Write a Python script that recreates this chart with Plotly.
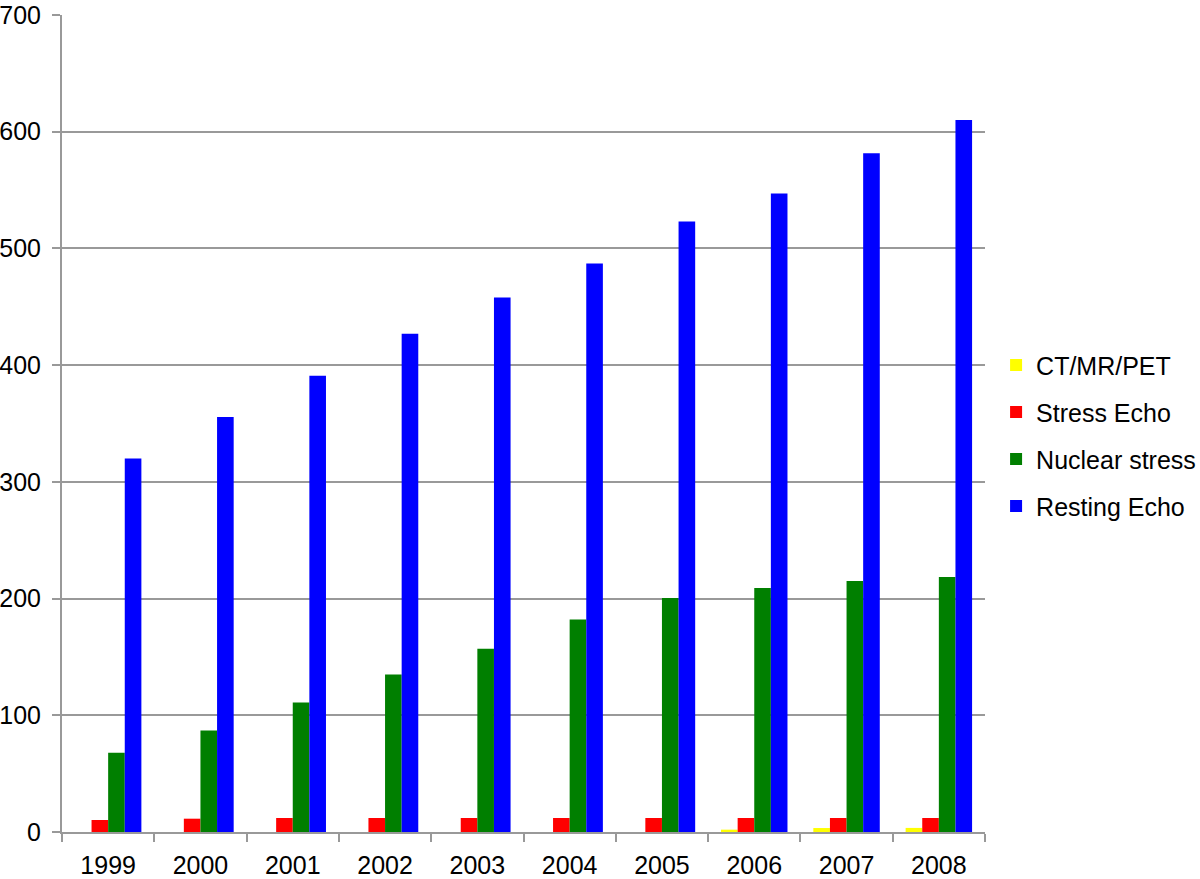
import plotly.graph_objects as go

years = ["1999", "2000", "2001", "2002", "2003", "2004", "2005", "2006", "2007", "2008"]
ct_mr_pet = [0, 0, 0, 0, 0, 0, 0, 2, 3.4, 3.5]
stress_echo = [10.3, 11.4, 12, 12, 12, 12, 12, 12, 12, 12]
nuclear_stress = [68, 87, 111, 135, 157, 182, 200.5, 209, 215, 218.5]
resting_echo = [320, 355.5, 391, 427, 458, 487, 523, 547, 581.5, 610]

series = [
    ("CT/MR/PET", ct_mr_pet, "#FFFF00"),
    ("Stress Echo", stress_echo, "#FF0000"),
    ("Nuclear stress", nuclear_stress, "#007F00"),
    ("Resting Echo", resting_echo, "#0000FF"),
]

fig = go.Figure()
for i, (name, vals, col) in enumerate(series):
    fig.add_trace(go.Bar(x=years, y=vals, name=name, marker=dict(color=col, line=dict(width=0)),
                         legendgroup=f"g{i}"))

font = "Liberation Sans, Arial, Helvetica, sans-serif"
fig.update_layout(
    width=1200, height=879,
    margin=dict(l=62, r=215, t=15, b=47, autoexpand=False),
    paper_bgcolor="white", plot_bgcolor="white",
    barmode="group", bargap=0.28, bargroupgap=0,
    font=dict(family=font, size=25, color="black"),
    showlegend=True,
    legend=dict(x=1.012, y=0.485, xanchor="left", yanchor="middle",
                traceorder="grouped", tracegroupgap=11.5,
                font=dict(size=25, color="black"), bgcolor="rgba(0,0,0,0)"),
    xaxis=dict(showline=True, linecolor="#999999", linewidth=2, automargin=False,
               ticks="outside", tickson="boundaries", ticklen=8, tickcolor="#999999", tickwidth=2,
               ticklabelstandoff=10,
               showgrid=False, tickfont=dict(size=25, family=font, color="black")),
    yaxis=dict(range=[0, 700], dtick=100, showline=True, linecolor="#999999", linewidth=2,
               automargin=False,
               showgrid=True, gridcolor="#999999", gridwidth=1.5,
               ticks="outside", ticklen=8, tickcolor="#999999", tickwidth=1.5,
               ticklabelstandoff=6, zeroline=False,
               tickfont=dict(size=25, family=font, color="black")),
)

fig.write_html("out.html", config={"displayModeBar": False},
               post_script="document.body.style.margin='0';document.body.style.overflow='hidden';")
